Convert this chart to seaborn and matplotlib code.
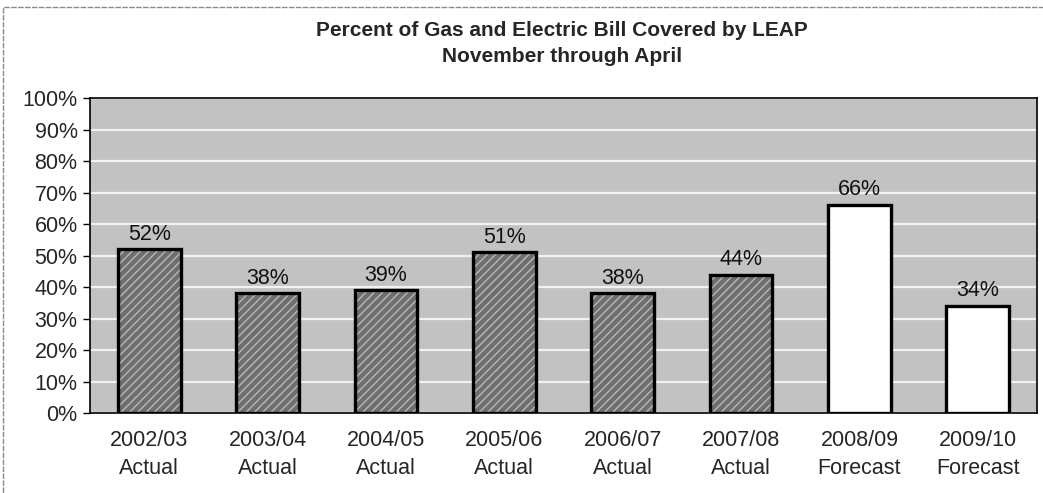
import matplotlib
matplotlib.use("Agg")
import matplotlib.pyplot as plt
import seaborn as sns
import pandas as pd
from matplotlib.patches import Rectangle

years = ["2002/03", "2003/04", "2004/05", "2005/06", "2006/07", "2007/08", "2008/09", "2009/10"]
kinds = ["Actual", "Actual", "Actual", "Actual", "Actual", "Actual", "Forecast", "Forecast"]
values = [52, 38, 39, 51, 38, 44, 66, 34]
y_ticks = [0, 10, 20, 30, 40, 50, 60, 70, 80, 90, 100]
title = "Percent of Gas and Electric Bill Covered by LEAP\nNovember through April"

sns.set_theme(style="white")
plt.rcParams['font.family'] = ['Liberation Sans', 'DejaVu Sans']

labels = [f"{y}\n{k}" for y, k in zip(years, kinds)]
df = pd.DataFrame({"label": labels, "value": values, "kind": kinds})

fig = plt.figure(figsize=(10.43, 4.93), dpi=100)
ax = fig.add_axes([0.0863, 0.162, 0.908, 0.639])
ax.set_facecolor("#c2c2c2")

palette = {"Actual": "#6e6e6e", "Forecast": "#ffffff"}
# fill layer with hatch
sns.barplot(data=df, x="label", y="value", hue="kind", palette=palette, dodge=False,
            width=0.53, legend=False, ax=ax, edgecolor="#b8b8b8", linewidth=0, zorder=3)
for p, k in zip(ax.patches, kinds):
    if k == "Actual":
        p.set_hatch("////")
# outline layer
sns.barplot(data=df, x="label", y="value", hue="kind", palette=palette, dodge=False,
            width=0.53, legend=False, ax=ax, fill=False, edgecolor="black", linewidth=2.4, zorder=4)

ax.set_ylim(0, 100)
ax.set_xlim(-0.5, len(years) - 0.5)
ax.set_yticks(y_ticks)
ax.set_yticklabels([f"{t}%" for t in y_ticks], fontsize=15.5)
ax.tick_params(axis="x", labelsize=15.5, length=0, pad=12)
ax.tick_params(axis="y", length=5, width=1, color="black", left=True, pad=4)
for lbl in ax.get_xticklabels():
    lbl.set_linespacing(1.45)
ax.set_xlabel("")
ax.set_ylabel("")
ax.yaxis.grid(True, color="#f2f2f2", linewidth=1.6, zorder=1)
ax.set_axisbelow(True)
for s in ax.spines.values():
    s.set_color("black")
    s.set_linewidth(1.2)
    s.set_visible(True)

for i, v in enumerate(values):
    ax.text(i, v + 1.5, f"{v}%", ha="center", va="bottom", fontsize=15.5, color="#111111", zorder=5)

fig.text(0.539, 0.957, title, ha="center", va="top", fontsize=15, fontweight="bold",
         linespacing=1.45)

fig.patches.append(Rectangle((0.003, -0.01), 1.0, 0.995, transform=fig.transFigure,
                             fill=False, edgecolor="#8a8a8a", linewidth=1, linestyle=(0, (4, 1))))

fig.savefig("out.png", dpi=100)
